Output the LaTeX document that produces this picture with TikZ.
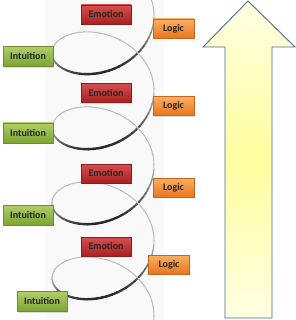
\documentclass[tikz,border=0pt]{standalone}
\usepackage{fontspec}
\setmainfont{Carlito}
\usetikzlibrary{shadows}
\definecolor{emoT}{RGB}{214,78,78}
\definecolor{emoB}{RGB}{170,32,32}
\definecolor{emoD}{RGB}{140,30,30}
\definecolor{logT}{RGB}{250,176,100}
\definecolor{logB}{RGB}{232,118,28}
\definecolor{logD}{RGB}{200,100,30}
\definecolor{intT}{RGB}{176,206,104}
\definecolor{intB}{RGB}{124,164,50}
\definecolor{intD}{RGB}{110,140,50}
\definecolor{arrE}{RGB}{255,255,226}
\definecolor{arrM}{RGB}{255,255,160}
\definecolor{arrL}{RGB}{74,104,148}
\tikzset{
  tag/.style={rectangle, font=\bfseries\fontsize{10}{12}\selectfont, text=black!85,
    minimum height=19pt, inner sep=0pt, line width=0.5pt,
    drop shadow={opacity=0.25, shadow xshift=0.8pt, shadow yshift=-1.2pt}},
  emotag/.style={tag, minimum width=50pt, draw=emoD, top color=emoT, bottom color=emoB},
  logtag/.style={tag, minimum width=41pt, draw=logD, top color=logT, bottom color=logB},
  inttag/.style={tag, minimum width=50pt, minimum height=20pt, draw=intD, top color=intT, bottom color=intB},
}
\begin{document}
\begin{tikzpicture}[x=1pt, y=-1pt]
\useasboundingbox (0,0) rectangle (296,320);
\fill[white] (0,0) rectangle (296,320);
% photo background
\fill[black!2.5] (45,0) rectangle (164,320);
% helix
\begin{scope}
\clip (45,0) rectangle (164,320);
\foreach \t in {-3.9,-3.8,...,22.5}{
  \pgfmathsetmacro\s{sin(\t r)}
  \pgfmathsetmacro\tn{\t+0.11}
  \pgfmathtruncatemacro\d{\s<0 ? 28+57*(-\s) : 26}
  \pgfmathsetmacro\w{\s<0 ? 1.0+1.4*(-\s) : 1.0}
  \draw[line width=\w pt, draw=black!\d, line cap=round]
    plot[domain=\t:\tn, samples=3, variable=\u]
    ({103-51*cos(\u r)}, {53+11.94*\u-38*sin(\u r)});
}
\end{scope}
% big arrow
\draw[line width=0.9pt, draw=arrL, line join=miter, top color=arrE, bottom color=arrE, middle color=arrM]
  (248,1) -- (295,47) -- (272,47) -- (272,318) -- (225,318) -- (225,47) -- (203,47) -- cycle;
% tags
\node[emotag] (e1) at (106,14.5) {Emotion};
\node[logtag] (l1) at (173.5,28.5) {Logic};
\node[inttag] (i1) at (28,56.5) {Intuition};
\node[emotag] (e2) at (106,93) {Emotion};
\node[logtag] (l2) at (173.5,106) {Logic};
\node[inttag] (i2) at (28,133) {Intuition};
\node[emotag] (e3) at (106,173.5) {Emotion};
\node[logtag] (l3) at (173.5,187.5) {Logic};
\node[inttag] (i3) at (28,215) {Intuition};
\node[emotag] (e4) at (106,246.5) {Emotion};
\node[logtag] (l4) at (169,264.5) {Logic};
\node[inttag] (i4) at (42,301.5) {Intuition};
\end{tikzpicture}
\end{document}
